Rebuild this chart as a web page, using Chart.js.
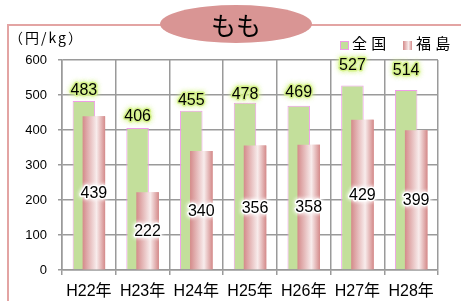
<!DOCTYPE html>
<html>
<head>
<meta charset="utf-8">
<script src="https://cdn.jsdelivr.net/npm/chart.js@4.4.1/dist/chart.umd.min.js"></script>
<style>
  html, body { margin: 0; padding: 0; background: #fff; overflow: hidden; }
</style>
</head>
<body>
<canvas id="momoChart" width="461" height="301"></canvas>
<script>
// peach (もも) price per kg, national vs Fukushima
const titleText = 'もも';
const unitText = '（円/kg）';
const years = ['H22年', 'H23年', 'H24年', 'H25年', 'H26年', 'H27年', 'H28年'];
const national = [483, 406, 455, 478, 469, 527, 514];
const fukushima = [439, 222, 340, 356, 358, 429, 399];
const yTicks = [0, 100, 200, 300, 400, 500, 600];
const seriesNames = ['全 国', '福 島'];

const FONT = '"Liberation Sans", "Noto Sans CJK JP", sans-serif';
const CAT_PCT = 0.372;
const BAR_PCT = 2.25;
// extra gap above green bars (labels were nudged by hand in the original)
const greenLabelGap = [6, 7, 6, 4, 9, 16, 15];

function pinkGradient(c, left, right) {
  const g = c.createLinearGradient(left, 0, right, 0);
  g.addColorStop(0, '#d48a8a');
  g.addColorStop(0.62, '#f8ecec');
  g.addColorStop(1, '#d48a8a');
  return g;
}

function pinkFill(ctx) {
  const chart = ctx.chart;
  const x = chart.scales.x;
  if (!x || ctx.dataIndex === undefined || !x.ticks.length) return '#dc9a9a';
  const catW = x.width / x.ticks.length;
  const centre = x.getPixelForValue(ctx.dataIndex) + catW * CAT_PCT / 4;
  const half = catW * CAT_PCT / 2 * BAR_PCT / 2;
  return pinkGradient(chart.ctx, centre - half, centre + half);
}

function glowText(c, txt, x, y, glow, blur) {
  c.save();
  c.shadowColor = glow;
  c.shadowBlur = blur;
  c.strokeStyle = glow;
  c.lineWidth = 2.5;
  c.lineJoin = 'round';
  c.strokeText(txt, x, y);
  c.strokeText(txt, x, y);
  c.restore();
  c.fillStyle = '#000';
  c.fillText(txt, x, y);
}

const decorPlugin = {
  id: 'decor',
  beforeDraw(chart) {
    const c = chart.ctx;
    c.save();
    // frame
    c.strokeStyle = '#e3a4a3';
    c.lineWidth = 2;
    c.beginPath();
    c.moveTo(8, 301);
    c.lineTo(8, 25);
    c.lineTo(461, 25);
    c.stroke();
    // title ellipse
    c.fillStyle = '#d99594';
    c.beginPath();
    c.ellipse(236, 24, 76, 19, 0, 0, Math.PI * 2);
    c.fill();
    c.fillStyle = '#000';
    c.font = '25px "Noto Sans CJK JP", sans-serif';
    c.textAlign = 'center';
    c.textBaseline = 'middle';
    c.fillText(titleText, 236, 25);
    // unit
    c.font = '14px "Noto Sans CJK JP", sans-serif';
    c.textAlign = 'left';
    c.letterSpacing = '2px';
    c.fillText(unitText, 9, 38);
    c.letterSpacing = '0px';
    // legend
    c.fillStyle = '#c3df9b';
    c.fillRect(340.5, 41.5, 8, 8);
    c.strokeStyle = '#f09ce8';
    c.lineWidth = 1;
    c.strokeRect(340.5, 41.5, 8, 8);
    c.fillStyle = pinkGradient(c, 403, 412);
    c.fillRect(403, 41, 9, 9);
    c.fillStyle = '#000';
    c.font = '15px ' + FONT;
    c.fillText(seriesNames[0], 352, 45);
    c.fillText(seriesNames[1], 416, 45);
    c.restore();
  },
  afterDatasetsDraw(chart) {
    // Fukushima bars sit in front of the national bars
    chart.getDatasetMeta(1).controller.draw();

    const c = chart.ctx;
    c.save();
    c.font = '16px ' + FONT;
    c.textAlign = 'center';
    c.textBaseline = 'alphabetic';
    chart.getDatasetMeta(0).data.forEach((bar, i) => {
      glowText(c, String(national[i]), bar.x, bar.y - greenLabelGap[i], 'rgba(214,242,140,0.85)', 5);
    });
    c.textBaseline = 'middle';
    chart.getDatasetMeta(1).data.forEach((bar, i) => {
      glowText(c, String(fukushima[i]), bar.x, (bar.y + bar.base) / 2 + 1, 'rgba(255,255,255,0.95)', 4);
    });
    c.restore();
  }
};

const ctx = document.getElementById('momoChart').getContext('2d');
const momoChart = new Chart(ctx, {
  type: 'bar',
  data: {
    labels: years,
    datasets: [{
      label: seriesNames[0],
      data: national,
      backgroundColor: '#c3df9b',
      borderColor: '#f09ce8',
      borderWidth: 1,
      categoryPercentage: CAT_PCT,
      barPercentage: BAR_PCT
    }, {
      label: seriesNames[1],
      data: fukushima,
      backgroundColor: pinkFill,
      borderWidth: 0,
      categoryPercentage: CAT_PCT,
      barPercentage: BAR_PCT
    }]
  },
  options: {
    responsive: false,
    animation: false,
    devicePixelRatio: 1,
    layout: { padding: { left: 0, top: 60, right: 23, bottom: 0 } },
    plugins: {
      legend: { display: false },
      tooltip: { enabled: false }
    },
    scales: {
      x: {
        grid: { color: '#9a9a9a', lineWidth: 1.5, tickLength: 5, offset: true },
        border: { color: '#9a9a9a', width: 1.5 },
        ticks: { color: '#000', font: { family: FONT, size: 16 }, padding: 7, maxRotation: 0 },
        afterFit(scale) { scale.height = 31; }
      },
      y: {
        min: yTicks[0],
        max: yTicks[yTicks.length - 1],
        afterBuildTicks(scale) { scale.ticks = yTicks.map(v => ({ value: v })); },
        grid: { color: '#9a9a9a', lineWidth: 1.5, tickLength: 4 },
        border: { color: '#9a9a9a', width: 1.5 },
        ticks: { color: '#000', font: { family: FONT, size: 13 }, padding: 11 },
        afterFit(scale) { scale.width = 62; }
      }
    }
  },
  plugins: [decorPlugin]
});
</script>
</body>
</html>
